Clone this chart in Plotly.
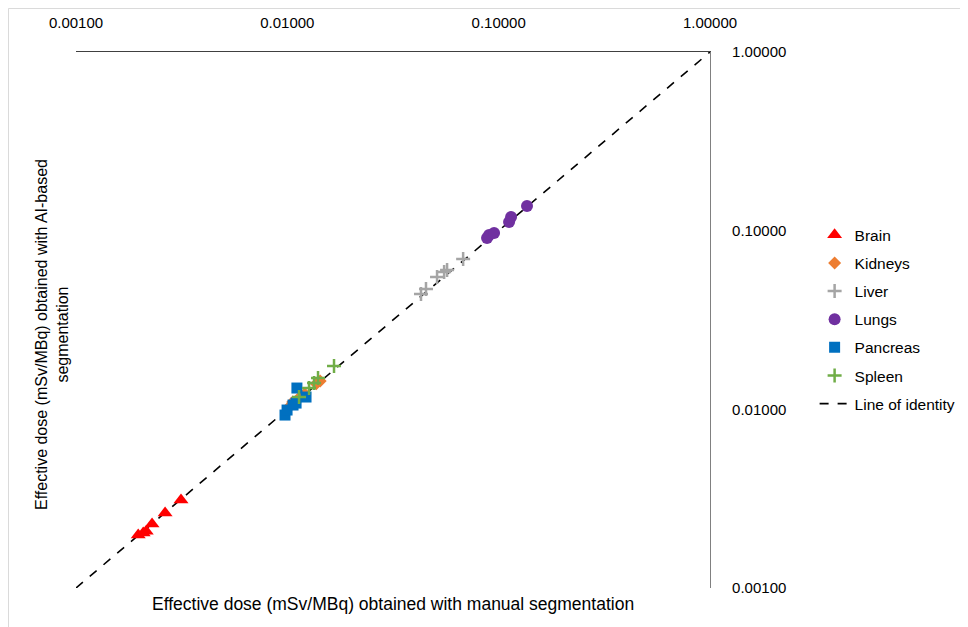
import plotly.graph_objects as go

tick_vals = [0.001, 0.01, 0.1, 1.0]
tick_text = ["0.00100", "0.01000", "0.10000", "1.00000"]

brain_x = [0.00197, 0.00208, 0.00215, 0.00229, 0.00264, 0.00314]
brain_y = [0.00198, 0.00203, 0.00208, 0.00228, 0.00263, 0.00311]

kidneys_x = [0.0102, 0.0106, 0.0112, 0.0121, 0.0137, 0.0143]
kidneys_y = [0.0103, 0.0110, 0.0114, 0.0122, 0.0139, 0.0144]

liver_x = [0.0429, 0.0453, 0.0511, 0.0552, 0.0570, 0.0679]
liver_y = [0.0442, 0.0471, 0.0550, 0.0587, 0.0602, 0.0693]

lungs_x = [0.0881, 0.0901, 0.0951, 0.1120, 0.1145, 0.1362]
lungs_y = [0.0909, 0.0945, 0.0970, 0.1117, 0.1191, 0.1373]

pancreas_x = [0.00975, 0.00997, 0.01064, 0.0110, 0.0111, 0.01226]
pancreas_y = [0.00929, 0.00991, 0.01057, 0.01084, 0.01316, 0.01172]

spleen_x = [0.01136, 0.01267, 0.01338, 0.01397, 0.01663]
spleen_y = [0.01172, 0.01316, 0.01403, 0.01497, 0.01748]

identity = [0.001, 1.0]

FONT = "Liberation Sans"

fig = go.Figure()

fig.add_trace(go.Scatter(
    x=identity, y=identity, mode="lines", name="Line of identity",
    line=dict(color="black", width=1.6, dash="dash"),
    legendgroup="g7", legendrank=7))

series = [
    ("Brain", brain_x, brain_y, "triangle-up", "#FF0000", 13, "g1"),
    ("Kidneys", kidneys_x, kidneys_y, "diamond", "#ED7D31", 10, "g2"),
    ("Liver", liver_x, liver_y, "cross-thin", "#A5A5A5", 10, "g3"),
    ("Lungs", lungs_x, lungs_y, "circle", "#7030A0", 12, "g4"),
    ("Pancreas", pancreas_x, pancreas_y, "square", "#0070C0", 11, "g5"),
    ("Spleen", spleen_x, spleen_y, "cross-thin", "#70AD47", 10, "g6"),
]
for i, (name, xs, ys, sym, col, sz, grp) in enumerate(series):
    marker = dict(symbol=sym, color=col, size=sz)
    if sym == "cross-thin":
        marker["line"] = dict(color=col, width=2.5)
    else:
        marker["line"] = dict(width=0)
    fig.add_trace(go.Scatter(
        x=xs, y=ys, mode="markers", name=name, marker=marker,
        legendgroup=grp, legendrank=i + 1))

fig.update_layout(
    width=968, height=627,
    margin=dict(l=68, r=266, t=44, b=47, autoexpand=False),
    paper_bgcolor="white", plot_bgcolor="white",
    font=dict(family=FONT, size=15, color="black"),
    showlegend=True,
    legend=dict(x=1.165, y=0.69, xanchor="left", yanchor="top",
                traceorder="grouped", tracegroupgap=5,
                font=dict(family=FONT, size=15.5, color="black"),
                bgcolor="rgba(0,0,0,0)"),
    xaxis=dict(type="log", range=[-3, 0], side="top", automargin=False,
               tickvals=tick_vals, ticktext=tick_text,
               showgrid=False, zeroline=False,
               ticks="outside", ticklen=17, tickcolor="rgba(0,0,0,0)",
               showline=True, linecolor="#404040", linewidth=1.2,
               tickfont=dict(family=FONT, size=15, color="black")),
    yaxis=dict(type="log", range=[-3, 0], side="right", automargin=False,
               tickvals=tick_vals, ticktext=tick_text,
               showgrid=False, zeroline=False,
               ticks="outside", ticklen=18, tickcolor="rgba(0,0,0,0)",
               showline=True, linecolor="#808080", linewidth=1.2,
               tickfont=dict(family=FONT, size=15, color="black")),
    annotations=[
        dict(text="Effective dose (mSv/MBq) obtained with manual segmentation",
             xref="paper", yref="paper", x=0.5, y=-0.03,
             xanchor="center", yanchor="middle", showarrow=False,
             font=dict(family=FONT, size=17.5, color="black")),
        dict(text="Effective dose (mSv/MBq) obtained with AI-based<br>segmentation",
             xref="paper", yref="paper", x=-0.0378, y=0.472,
             xanchor="center", yanchor="middle", showarrow=False,
             textangle=-90,
             font=dict(family=FONT, size=16, color="black")),
    ],
    shapes=[
        dict(type="line", xref="paper", yref="paper",
             x0=-0.1065, x1=1.5, y0=1.0812, y1=1.0812,
             line=dict(color="#D9D9D9", width=1)),
        dict(type="line", xref="paper", yref="paper",
             x0=-0.1065, x1=-0.1065, y0=-0.2, y1=1.0812,
             line=dict(color="#D9D9D9", width=1)),
    ],
)

fig.write_html("out.html")
